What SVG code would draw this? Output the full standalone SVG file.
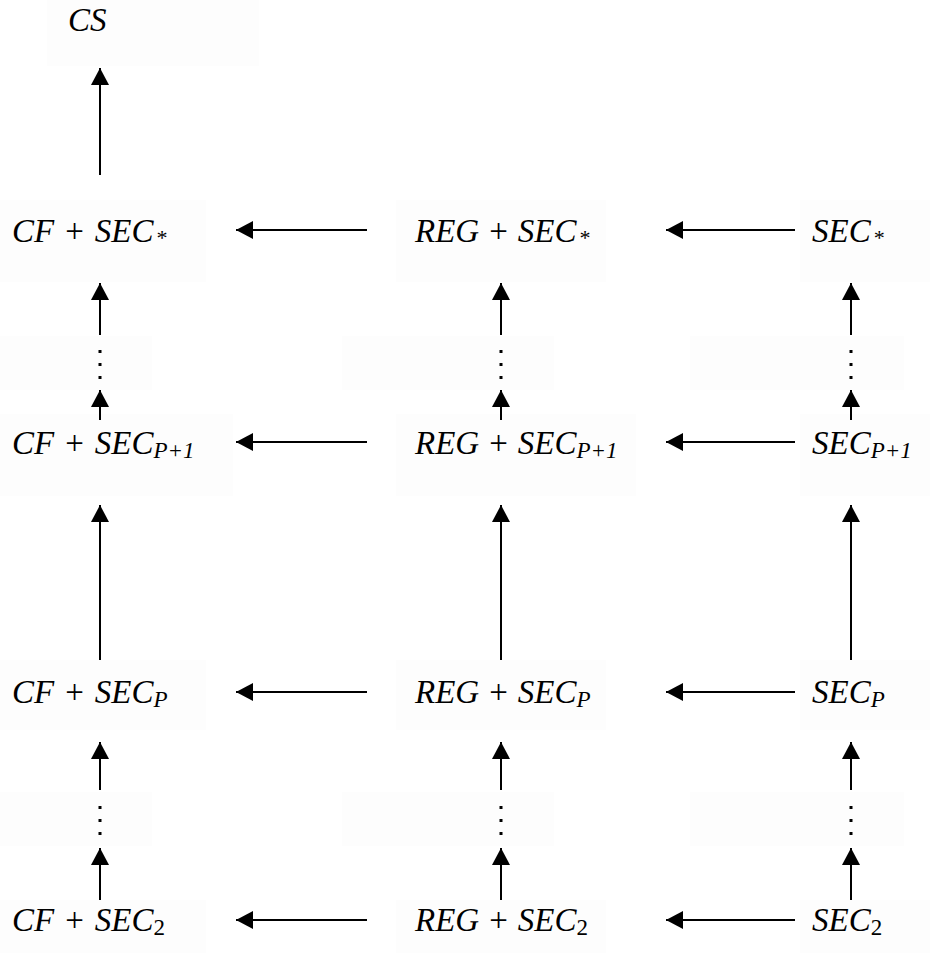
<svg xmlns="http://www.w3.org/2000/svg" width="930" height="953" viewBox="0 0 930 953">
  <defs>
    <marker id="head" viewBox="0 0 17 18" refX="17" refY="9" markerWidth="17" markerHeight="18" markerUnits="userSpaceOnUse" orient="auto">
      <path d="M0,0 L17,9 L0,18 Z" fill="#000"/>
    </marker>
    <style>
      .lbl { font-family: "Liberation Serif", "Times New Roman", serif; font-style: italic; font-size: 33px; fill: #000; }
      .op { font-style: normal; }
      .sub { font-size: 23px; }
      .star { font-size: 22px; }
      .num { font-style: normal; font-size: 23px; }
      .pad { fill: #fdfdfd; }
      .edge { stroke: #000; stroke-width: 2; fill: none; marker-end: url(#head); }
      .dot { fill: #000; }
    </style>
  </defs>

  <!-- faint label pads -->
  <g id="pads">
    <rect class="pad" x="47" y="0" width="212" height="66"/>
    <rect class="pad" x="0" y="200" width="206" height="82"/>
    <rect class="pad" x="396" y="200" width="210" height="82"/>
    <rect class="pad" x="800" y="200" width="130" height="82"/>
    <rect class="pad" x="0" y="336" width="152" height="54"/>
    <rect class="pad" x="342" y="336" width="212" height="54"/>
    <rect class="pad" x="690" y="336" width="214" height="54"/>
    <rect class="pad" x="0" y="414" width="233" height="82"/>
    <rect class="pad" x="396" y="414" width="240" height="82"/>
    <rect class="pad" x="800" y="414" width="130" height="82"/>
    <rect class="pad" x="0" y="660" width="206" height="70"/>
    <rect class="pad" x="396" y="660" width="210" height="70"/>
    <rect class="pad" x="800" y="660" width="130" height="70"/>
    <rect class="pad" x="0" y="792" width="152" height="54"/>
    <rect class="pad" x="342" y="792" width="212" height="54"/>
    <rect class="pad" x="690" y="792" width="214" height="54"/>
    <rect class="pad" x="0" y="900" width="206" height="53"/>
    <rect class="pad" x="396" y="900" width="210" height="53"/>
    <rect class="pad" x="800" y="900" width="130" height="53"/>
  </g>

  <!-- nodes -->
  <g id="cs"><text class="lbl" x="68" y="31">CS</text></g>

  <g id="cf-star"><text class="lbl" x="12" y="242">CF<tspan class="op" dx="11">+</tspan><tspan dx="11">SEC</tspan><tspan class="star" dx="2" dy="3">*</tspan></text></g>
  <g id="reg-star"><text class="lbl" x="415" y="242">REG<tspan class="op" dx="10">+</tspan><tspan dx="10">SEC</tspan><tspan class="star" dx="2" dy="3">*</tspan></text></g>
  <g id="sec-star"><text class="lbl" x="812" y="242">SEC<tspan class="star" dx="2" dy="3">*</tspan></text></g>

  <g id="cf-p1"><text class="lbl" x="12" y="454">CF<tspan class="op" dx="11">+</tspan><tspan dx="11">SEC</tspan><tspan class="sub" dy="4">P+1</tspan></text></g>
  <g id="reg-p1"><text class="lbl" x="415" y="454">REG<tspan class="op" dx="10">+</tspan><tspan dx="10">SEC</tspan><tspan class="sub" dy="4">P+1</tspan></text></g>
  <g id="sec-p1"><text class="lbl" x="812" y="454">SEC<tspan class="sub" dy="4">P+1</tspan></text></g>

  <g id="cf-p"><text class="lbl" x="12" y="703">CF<tspan class="op" dx="11">+</tspan><tspan dx="11">SEC</tspan><tspan class="sub" dy="4">P</tspan></text></g>
  <g id="reg-p"><text class="lbl" x="415" y="703">REG<tspan class="op" dx="10">+</tspan><tspan dx="10">SEC</tspan><tspan class="sub" dy="4">P</tspan></text></g>
  <g id="sec-p"><text class="lbl" x="812" y="703">SEC<tspan class="sub" dy="4">P</tspan></text></g>

  <g id="cf-2"><text class="lbl" x="12" y="931">CF<tspan class="op" dx="11">+</tspan><tspan dx="11">SEC</tspan><tspan class="num" dy="4">2</tspan></text></g>
  <g id="reg-2"><text class="lbl" x="415" y="931">REG<tspan class="op" dx="10">+</tspan><tspan dx="10">SEC</tspan><tspan class="num" dy="4">2</tspan></text></g>
  <g id="sec-2"><text class="lbl" x="812" y="931">SEC<tspan class="num" dy="4">2</tspan></text></g>

  <!-- connectors -->
  <g id="edges">
    <!-- CF column -->
    <path class="edge" d="M100,175 V68"/>
    <path class="edge" d="M100,335 V283"/>
    <path class="edge" d="M100,420 V390"/>
    <path class="edge" d="M100,660 V505"/>
    <path class="edge" d="M100,790 V742"/>
    <path class="edge" d="M100,900 V848"/>
    <!-- REG column -->
    <path class="edge" d="M501,335 V283"/>
    <path class="edge" d="M501,420 V390"/>
    <path class="edge" d="M501,660 V505"/>
    <path class="edge" d="M501,790 V742"/>
    <path class="edge" d="M501,900 V848"/>
    <!-- SEC column -->
    <path class="edge" d="M851,335 V283"/>
    <path class="edge" d="M851,420 V390"/>
    <path class="edge" d="M851,660 V505"/>
    <path class="edge" d="M851,790 V742"/>
    <path class="edge" d="M851,900 V848"/>
    <!-- rows -->
    <path class="edge" d="M367,230 H236"/>
    <path class="edge" d="M795,230 H666"/>
    <path class="edge" d="M367,442 H236"/>
    <path class="edge" d="M795,442 H666"/>
    <path class="edge" d="M367,692 H236"/>
    <path class="edge" d="M795,692 H666"/>
    <path class="edge" d="M367,920 H236"/>
    <path class="edge" d="M795,920 H666"/>
  </g>

  <!-- vertical ellipses -->
  <g id="dots">
    <rect class="dot" x="98.5" y="350" width="3" height="3"/>
    <rect class="dot" x="98.5" y="363" width="3" height="3"/>
    <rect class="dot" x="98.5" y="376" width="3" height="3"/>
    <rect class="dot" x="499.5" y="350" width="3" height="3"/>
    <rect class="dot" x="499.5" y="363" width="3" height="3"/>
    <rect class="dot" x="499.5" y="376" width="3" height="3"/>
    <rect class="dot" x="849.5" y="350" width="3" height="3"/>
    <rect class="dot" x="849.5" y="363" width="3" height="3"/>
    <rect class="dot" x="849.5" y="376" width="3" height="3"/>
    <rect class="dot" x="98.5" y="806" width="3" height="3"/>
    <rect class="dot" x="98.5" y="819" width="3" height="3"/>
    <rect class="dot" x="98.5" y="832" width="3" height="3"/>
    <rect class="dot" x="499.5" y="806" width="3" height="3"/>
    <rect class="dot" x="499.5" y="819" width="3" height="3"/>
    <rect class="dot" x="499.5" y="832" width="3" height="3"/>
    <rect class="dot" x="849.5" y="806" width="3" height="3"/>
    <rect class="dot" x="849.5" y="819" width="3" height="3"/>
    <rect class="dot" x="849.5" y="832" width="3" height="3"/>
  </g>
</svg>
